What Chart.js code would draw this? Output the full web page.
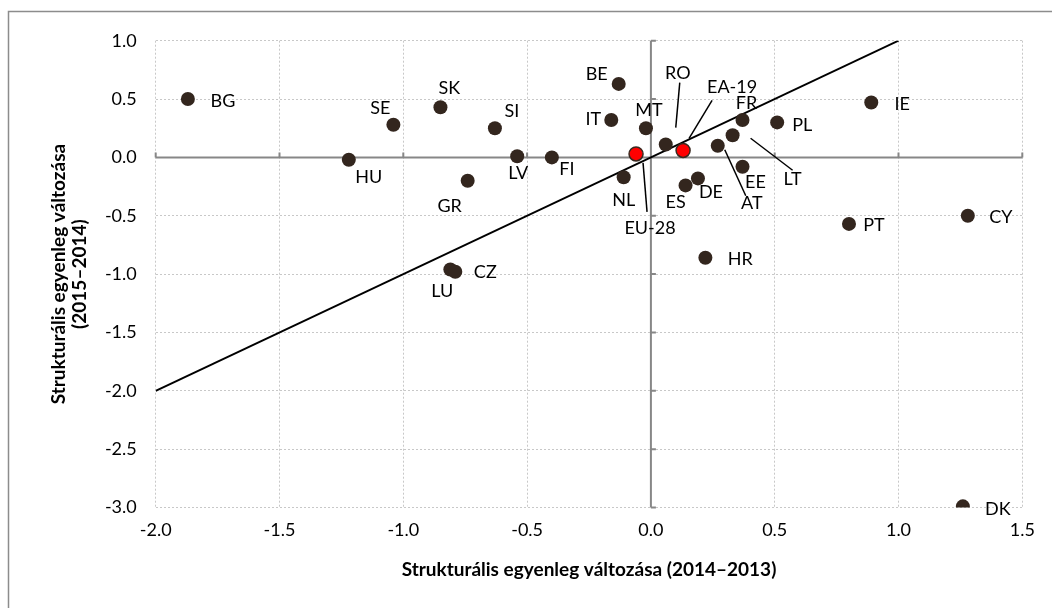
<!DOCTYPE html>
<html>
<head>
<meta charset="utf-8">
<script src="https://cdn.jsdelivr.net/npm/chart.js@4.4.1/dist/chart.umd.min.js"></script>
<style>
  html, body { margin: 0; padding: 0; background: #ffffff; }
  #wrap { width: 1052px; height: 608px; position: relative; }
</style>
</head>
<body>
<div id="wrap"><canvas id="chart" width="1052" height="608"></canvas></div>
<script>
// Member states: change of structural balance 2014–2013 (x) and 2015–2014 (y)
const countries = ['BG','SE','SK','HU','GR','LU','CZ','SI','LV','FI','BE','IT','MT','NL','RO','ES','DE','AT','LT','FR','EE','PL','HR','IE','PT','CY','DK'];
const change2014 = [-1.87,-1.04,-0.85,-1.22,-0.74,-0.81,-0.79,-0.63,-0.54,-0.40,-0.13,-0.16,-0.02,-0.11, 0.06, 0.14, 0.19, 0.27, 0.33, 0.37, 0.37, 0.51, 0.22, 0.89, 0.80, 1.28, 1.26];
const change2015 = [ 0.50, 0.28, 0.43,-0.02,-0.20,-0.96,-0.98, 0.25, 0.01, 0.00, 0.63, 0.32, 0.25,-0.17, 0.11,-0.24,-0.18, 0.10, 0.19, 0.32,-0.08, 0.30,-0.86, 0.47,-0.57,-0.50,-2.99];

// EU aggregates
const aggregates = ['EU-28','EA-19'];
const aggChange2014 = [-0.06, 0.13];
const aggChange2015 = [ 0.03, 0.06];

// 45-degree reference line endpoints
const diagX = [-2.0, 1.0];
const diagY = [-2.0, 1.0];

// Axis tick values
const xTicks = [-2.0,-1.5,-1.0,-0.5,0.0,0.5,1.0,1.5];
const yTicks = [1.0,0.5,0.0,-0.5,-1.0,-1.5,-2.0,-2.5,-3.0];

const xTitle = 'Strukturális egyenleg változása (2014–2013)';
const yTitle = ['Strukturális egyenleg változása', '(2015–2014)'];

// Label placement relative to each marker (pixels, label centre)
const labelOffset = {
  'BG':[35,2], 'SE':[-13,-17], 'SK':[9,-19], 'HU':[20,17], 'GR':[-18,25],
  'LU':[-8,22], 'CZ':[30,0], 'SI':[17,-17], 'LV':[1,17], 'FI':[15,12],
  'BE':[-22,-10], 'IT':[-18,-1], 'MT':[3,-18], 'NL':[0,23], 'RO':[12,-71],
  'ES':[-10,17], 'DE':[13,14], 'AT':[34,57], 'LT':[60,44], 'FR':[4,-17],
  'EE':[13,15], 'PL':[25,3], 'HR':[35,1], 'IE':[31,2], 'PT':[25,1],
  'CY':[33,1], 'DK':[35,3], 'EU-28':[14,74], 'EA-19':[49,-63]
};
// Leader lines from label to marker (pixels relative to marker)
const leaders = {
  'RO':[14,-62,10,-17], 'EA-19':[29,-50,6,-12], 'EU-28':[11,58,7,9],
  'AT':[28,50,7,4], 'LT':[60,35,18,3]
};

const FONT = 'Lato, "Open Sans", "DejaVu Sans", sans-serif';

const countryPoints = countries.map((c, i) => ({ x: change2014[i], y: change2015[i], label: c }));
const aggPoints = aggregates.map((c, i) => ({ x: aggChange2014[i], y: aggChange2015[i], label: c }));
const diagPoints = diagX.map((v, i) => ({ x: v, y: diagY[i] }));

const frame = {
  id: 'frame',
  beforeDraw(chart) {
    const ctx = chart.ctx;
    ctx.save();
    ctx.fillStyle = '#ffffff';
    ctx.fillRect(0, 0, chart.width, chart.height);
    ctx.strokeStyle = '#8c8c8c';
    ctx.lineWidth = 1.5;
    ctx.strokeRect(8.5, 11.5, chart.width + 10, chart.height + 10);
    ctx.restore();
  }
};

const zeroAxes = {
  id: 'zeroAxes',
  beforeDatasetsDraw(chart) {
    const { ctx, chartArea: a, scales: { x, y } } = chart;
    const x0 = x.getPixelForValue(0), y0 = y.getPixelForValue(0);
    ctx.save();
    ctx.strokeStyle = '#878787';
    ctx.lineWidth = 2;
    ctx.beginPath();
    ctx.moveTo(a.left, y0); ctx.lineTo(a.right, y0);
    ctx.moveTo(x0, a.top); ctx.lineTo(x0, a.bottom);
    xTicks.forEach(v => { const px = x.getPixelForValue(v); ctx.moveTo(px, y0); ctx.lineTo(px, y0 - 5); });
    yTicks.forEach(v => { const py = y.getPixelForValue(v); ctx.moveTo(x0, py); ctx.lineTo(x0 + 5, py); });
    ctx.stroke();
    ctx.restore();
  }
};

const pointLabels = {
  id: 'pointLabels',
  afterDatasetsDraw(chart) {
    const ctx = chart.ctx;
    ctx.save();
    ctx.font = '18px ' + FONT;
    ctx.fillStyle = '#000000';
    ctx.textAlign = 'center';
    ctx.textBaseline = 'middle';
    [0, 1].forEach(di => {
      const ds = chart.data.datasets[di];
      const meta = chart.getDatasetMeta(di);
      meta.data.forEach((el, j) => {
        const name = ds.data[j].label;
        const off = labelOffset[name] || [20, 0];
        const ld = leaders[name];
        if (ld) {
          ctx.strokeStyle = '#000000';
          ctx.lineWidth = 1.5;
          ctx.beginPath();
          ctx.moveTo(el.x + ld[0], el.y + ld[1]);
          ctx.lineTo(el.x + ld[2], el.y + ld[3]);
          ctx.stroke();
        }
        ctx.fillText(name, el.x + off[0], el.y + off[1]);
      });
    });
    ctx.restore();
  }
};

new Chart(document.getElementById('chart'), {
  type: 'scatter',
  data: {
    datasets: [
      { data: countryPoints, backgroundColor: '#33261e', borderWidth: 0, pointRadius: 7, pointHoverRadius: 7, order: 2 },
      { data: aggPoints, backgroundColor: '#ff0000', borderColor: '#3a2a20', borderWidth: 1.5, pointRadius: 7, pointHoverRadius: 7, order: 1 },
      { type: 'line', data: diagPoints, borderColor: '#000000', borderWidth: 2, pointRadius: 0, showLine: true, fill: false, order: 3 }
    ]
  },
  options: {
    responsive: false,
    animation: false,
    events: [],
    layout: { padding: { left: 0, top: 40.7, right: 29.7, bottom: 0 } },
    plugins: { legend: { display: false }, tooltip: { enabled: false } },
    scales: {
      x: {
        type: 'linear', min: -2, max: 1.5,
        afterBuildTicks(s) { s.ticks = xTicks.map(v => ({ value: v })); },
        afterFit(s) { s.height = 100.5; },
        ticks: { callback: v => v.toFixed(1), color: '#000000', font: { family: FONT, size: 18 }, padding: 12, maxRotation: 0 },
        grid: { color: '#c8c8c8', lineWidth: 1, drawTicks: false },
        border: { display: false, dash: [2, 2] },
        title: { display: true, text: xTitle, color: '#000000', font: { family: FONT, size: 19, weight: 'bold', lineHeight: 1.25 }, padding: { top: 0, bottom: 26 } }
      },
      y: {
        type: 'linear', min: -3, max: 1,
        afterBuildTicks(s) { s.ticks = yTicks.map(v => ({ value: v })); },
        afterFit(s) { s.width = 155.7; },
        ticks: { callback: v => v.toFixed(1), color: '#000000', font: { family: FONT, size: 18 }, padding: 19 },
        grid: { color: '#c8c8c8', lineWidth: 1, drawTicks: false },
        border: { display: false, dash: [2, 2] },
        title: { display: true, text: yTitle, color: '#000000', font: { family: FONT, size: 19, weight: 'bold', lineHeight: 1.1 }, padding: { top: 48.5, bottom: 0 } }
      }
    }
  },
  plugins: [frame, zeroAxes, pointLabels]
});
</script>
</body>
</html>
